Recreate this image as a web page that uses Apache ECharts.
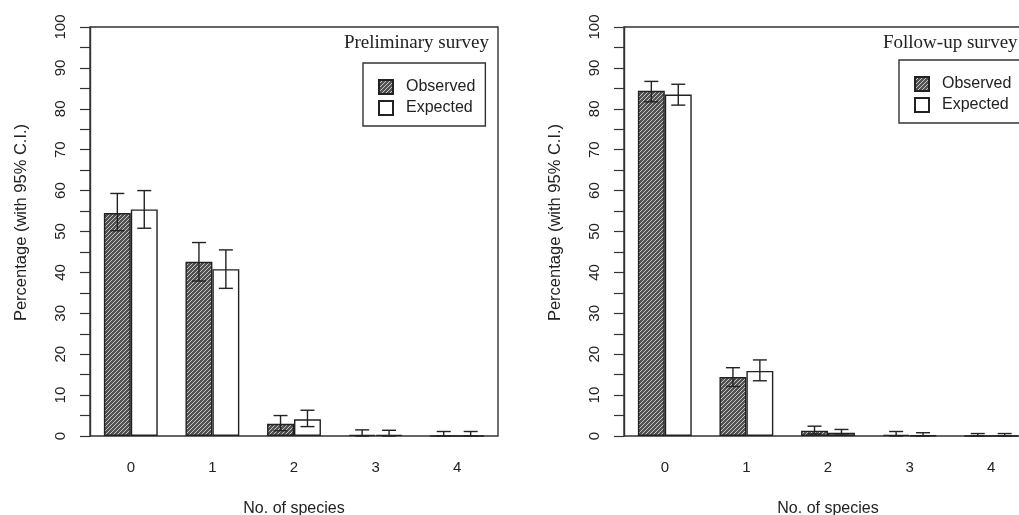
<!DOCTYPE html>
<html>
<head>
<meta charset="utf-8">
<script src="https://cdn.jsdelivr.net/npm/echarts@6/dist/echarts.min.js"></script>
<style>
  html, body { margin: 0; padding: 0; background: #fff; overflow: hidden; }
  #surveyChart { width: 1019px; height: 515px; }
</style>
</head>
<body>
<div id="surveyChart"></div>
<script>
// categories (number of species)
var speciesCount = ['0', '1', '2', '3', '4'];

// preliminary survey, percentages with 95% C.I.
var prelimObserved = [54.5, 42.6, 3.0, 0.3, 0];
var prelimObservedLow = [50.2, 37.9, 1.3, 0, 0];
var prelimObservedHigh = [59.3, 47.3, 5.0, 1.5, 1.1];
var prelimExpected = [55.4, 40.8, 4.1, 0.3, 0];
var prelimExpectedLow = [50.8, 36.1, 2.3, 0, 0];
var prelimExpectedHigh = [60.0, 45.5, 6.3, 1.4, 1.1];

// follow-up survey
var followObserved = [84.4, 14.4, 1.3, 0.3, 0];
var followObservedLow = [81.7, 12.1, 0.5, 0, 0];
var followObservedHigh = [86.7, 16.7, 2.4, 1.1, 0.6];
var followExpected = [83.5, 15.9, 0.8, 0.1, 0];
var followExpectedLow = [80.9, 13.5, 0.2, 0, 0];
var followExpectedHigh = [86.0, 18.6, 1.6, 0.8, 0.6];

// hatched fill for observed bars
function makeHatch() {
  var c = document.createElement('canvas');
  c.width = 4; c.height = 4;
  var g = c.getContext('2d');
  g.fillStyle = '#525252';
  g.fillRect(0, 0, 4, 4);
  g.strokeStyle = '#e4e4e4';
  g.lineWidth = 0.8;
  g.beginPath();
  g.moveTo(0, 4); g.lineTo(4, 0);
  g.moveTo(-1, 1); g.lineTo(1, -1);
  g.moveTo(3, 5); g.lineTo(5, 3);
  g.stroke();
  return c;
}
var hatchFill = { image: makeHatch(), repeat: 'repeat' };

function ciData(low, high) {
  return low.map(function (v, i) { return [i, v, high[i]]; });
}

// error bars with caps, shifted onto the left/right bar of each pair
function errorBars(shift) {
  return function (params, api) {
    var idx = api.value(0);
    var band = api.size([1, 0])[0];
    var x = api.coord([idx, 0])[0] + shift * band;
    var lo = api.coord([idx, api.value(1)])[1];
    var hi = api.coord([idx, api.value(2)])[1];
    var cap = 7;
    var st = { stroke: '#222', lineWidth: 1.4 };
    return {
      type: 'group',
      children: [
        { type: 'line', shape: { x1: x, y1: lo, x2: x, y2: hi }, style: st },
        { type: 'line', shape: { x1: x - cap, y1: hi, x2: x + cap, y2: hi }, style: st },
        { type: 'line', shape: { x1: x - cap, y1: lo, x2: x + cap, y2: lo }, style: st }
      ]
    };
  };
}

var textColor = '#222';
var lineColor = '#333';

function xAxisFor(gridIndex) {
  return {
    type: 'category',
    gridIndex: gridIndex,
    data: speciesCount,
    axisLine: { show: false },
    axisTick: { show: false },
    axisLabel: { color: textColor, fontSize: 15, margin: 24, fontFamily: 'Liberation Sans' },
    name: 'No. of species',
    nameLocation: 'middle',
    nameGap: 65,
    nameTextStyle: { color: textColor, fontSize: 16, fontFamily: 'Liberation Sans' }
  };
}

function yAxisFor(gridIndex) {
  return {
    type: 'value',
    gridIndex: gridIndex,
    min: 0,
    max: 100,
    interval: 10,
    splitLine: { show: false },
    axisLine: { show: true, lineStyle: { color: lineColor, width: 1.4 } },
    axisTick: { show: true, length: 10, lineStyle: { color: lineColor, width: 1.2 } },
    minorTick: { show: true, splitNumber: 2, length: 10, lineStyle: { color: lineColor, width: 1.2 } },
    axisLabel: { color: textColor, fontSize: 15, rotate: 90, margin: 22, fontFamily: 'Liberation Sans' },
    name: 'Percentage (with 95% C.I.)',
    nameLocation: 'middle',
    nameRotate: 90,
    nameGap: 60,
    // left padding nudges the rotated title up a little, as in the original
    nameTextStyle: { color: textColor, fontSize: 16.5, fontFamily: 'Liberation Sans', padding: [0, 0, 0, 18] }
  };
}

function legendFor(left, top) {
  return {
    data: ['Observed', 'Expected'],
    orient: 'vertical',
    left: left,
    top: top,
    padding: [16, 10, 10, 15],
    itemGap: 5,
    itemWidth: 14,
    itemHeight: 14,
    icon: 'rect',
    borderColor: lineColor,
    borderWidth: 1.4,
    textStyle: { color: textColor, fontSize: 16, fontFamily: 'Liberation Sans', padding: [0, 0, 0, 8] }
  };
}

function barSeries(name, data, gridIndex, fill) {
  return {
    name: name,
    type: 'bar',
    xAxisIndex: gridIndex,
    yAxisIndex: gridIndex,
    data: data,
    barWidth: '33%',
    barGap: '0%',
    itemStyle: { color: fill, borderColor: '#222', borderWidth: 1.4 },
    emphasis: { disabled: true }
  };
}

function ciSeries(low, high, gridIndex, shift) {
  return {
    type: 'custom',
    xAxisIndex: gridIndex,
    yAxisIndex: gridIndex,
    data: ciData(low, high),
    encode: { x: 0, y: [1, 2] },
    renderItem: errorBars(shift),
    z: 5
  };
}

var chart = echarts.init(document.getElementById('surveyChart'));
chart.setOption({
  animation: false,
  backgroundColor: '#fff',
  title: [
    {
      text: 'Preliminary survey',
      right: 530,
      top: 34,
      padding: 0,
      textStyle: { color: textColor, fontSize: 19, fontWeight: 'normal', fontFamily: 'Liberation Serif' }
    },
    {
      text: 'Follow-up survey',
      left: 883,
      top: 34,
      padding: 0,
      textStyle: { color: textColor, fontSize: 19, fontWeight: 'normal', fontFamily: 'Liberation Serif' }
    }
  ],
  legend: [legendFor(363, 63), legendFor(899, 60)],
  grid: [
    { left: 90, top: 27, width: 408, height: 409, outerBoundsMode: 'none',
      show: true, borderColor: lineColor, borderWidth: 1.4 },
    { left: 624, top: 27, width: 408, height: 409, outerBoundsMode: 'none',
      show: true, borderColor: lineColor, borderWidth: 1.4 }
  ],
  xAxis: [xAxisFor(0), xAxisFor(1)],
  yAxis: [yAxisFor(0), yAxisFor(1)],
  series: [
    barSeries('Observed', prelimObserved, 0, hatchFill),
    barSeries('Expected', prelimExpected, 0, '#fff'),
    ciSeries(prelimObservedLow, prelimObservedHigh, 0, -0.165),
    ciSeries(prelimExpectedLow, prelimExpectedHigh, 0, 0.165),
    barSeries('Observed', followObserved, 1, hatchFill),
    barSeries('Expected', followExpected, 1, '#fff'),
    ciSeries(followObservedLow, followObservedHigh, 1, -0.165),
    ciSeries(followExpectedLow, followExpectedHigh, 1, 0.165)
  ]
});
</script>
</body>
</html>
